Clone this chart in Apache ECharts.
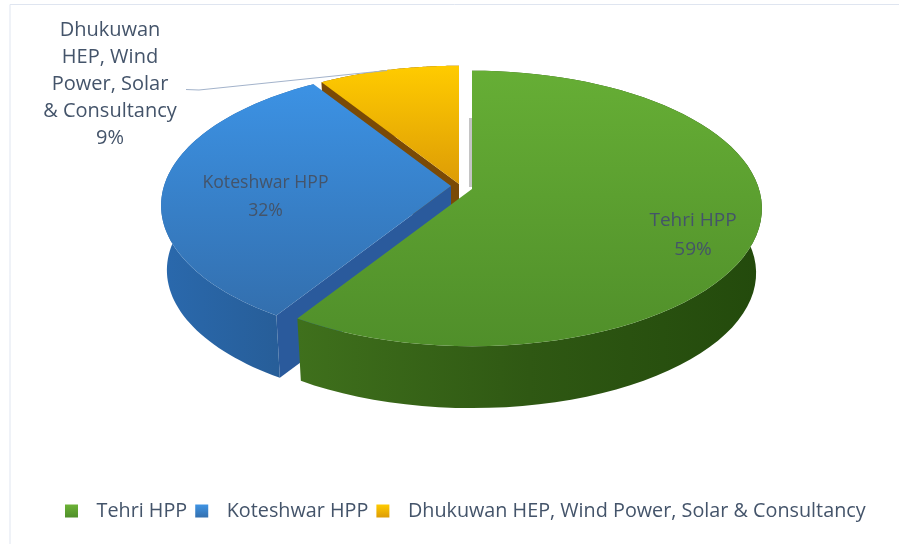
<!DOCTYPE html>
<html>
<head>
<meta charset="utf-8">
<style>html,body{margin:0;padding:0;background:#fff}#c{width:899px;height:544px;filter:blur(0.45px)}</style>
<script src="https://cdn.jsdelivr.net/npm/echarts@6/dist/echarts.min.js"></script>
</head>
<body>
<div id="c"></div>
<script>
const categories = ['Tehri HPP', 'Koteshwar HPP', 'Dhukuwan HEP, Wind Power, Solar & Consultancy'];
const values = [59, 32, 9];
const labelNames = ['Tehri HPP', 'Koteshwar HPP', 'Dhukuwan\nHEP, Wind\nPower, Solar\n& Consultancy'];

const FONT = '"Open Sans", "Noto Sans", sans-serif';
const TEXT = '#44546a';
const LG = echarts.graphic.LinearGradient;
// projection of the pie disc
const RX = 287, RY = 135, PERSP = 0.1415, DEPTH = 65, SHRINK = 0.98;
const apexes = [[472, 189], [451, 186], [459, 184]];
const labelPos = [[693, 235], [265.5, 197], [110, 84.5]];
const labelSize = [19, 17.6, 20];
const labelLine = [29, 28, 27];
const topFill = [
  new LG(0, 0, 0, 1, [{offset: 0, color: '#66ae35'}, {offset: 1, color: '#508f2a'}]),
  new LG(0, 0, 0, 1, [{offset: 0, color: '#3c92e4'}, {offset: 1, color: '#336fae'}]),
  new LG(0, 0, 0, 1, [{offset: 0, color: '#ffcb00'}, {offset: 1, color: '#dd9c06'}])
];
const wallFill = [
  new LG(0, 0, 1, 0, [{offset: 0, color: '#3f701c'}, {offset: 0.5, color: '#2f5813'}, {offset: 1, color: '#234a0c'}]),
  new LG(0, 0, 1, 0, [{offset: 0, color: '#2a69ad'}, {offset: 1, color: '#265a92'}]),
  '#7a4a06'
];
const faceFill = ['#2f5813', '#2a5a9c', '#7a4a06'];
const legendFill = [
  new LG(0, 0, 0, 1, [{offset: 0, color: '#6cb236'}, {offset: 1, color: '#4f8f2a'}]),
  new LG(0, 0, 0, 1, [{offset: 0, color: '#3f94e4'}, {offset: 1, color: '#336fae'}]),
  new LG(0, 0, 0, 1, [{offset: 0, color: '#ffcb00'}, {offset: 1, color: '#dd9c06'}])
];

function project(apex, deg, lower) {
  const t = deg * Math.PI / 180, u = Math.sin(t), v = -Math.cos(t);
  const d = 1 - PERSP * v, s = lower ? SHRINK : 1;
  return [apex[0] + s * RX * u / d, apex[1] + (lower ? DEPTH : 0) + s * RY * v / d];
}
function arc(apex, a0, a1, lower) {
  const pts = [];
  for (let k = 0; k <= 72; k++) pts.push(project(apex, a0 + (a1 - a0) * k / 72, lower));
  return pts;
}
const total = values.reduce((a, b) => a + b, 0);
function renderSlice(params, api) {
  const i = params.seriesIndex, val = api.value(0);
  const a0 = values.slice(0, i).reduce((a, b) => a + b, 0) / total * 360;
  const a1 = a0 + val / total * 360;
  const apex = apexes[i];
  const topArc = arc(apex, a0, a1, false), lowArc = arc(apex, a0, a1, true);
  const lowApex = [apex[0], apex[1] + DEPTH];
  const kids = [
    {type: 'polygon', shape: {points: [apex, topArc[0], lowArc[0], lowApex]}, style: {fill: faceFill[i]}},
    {type: 'polygon', shape: {points: topArc.concat(lowArc.slice().reverse())}, style: {fill: wallFill[i]}},
    {type: 'polygon', shape: {points: [apex].concat(topArc)}, style: {fill: topFill[i]}},
    {type: 'text', style: {text: labelNames[i] + '\n' + Math.round(val / total * 100) + '%', x: labelPos[i][0], y: labelPos[i][1],
      align: 'center', verticalAlign: 'middle', fill: TEXT, font: labelSize[i] + 'px ' + FONT, lineHeight: labelLine[i]}}
  ];
  if (i === 2) {
    kids.push({type: 'polyline', shape: {points: [[186, 89.5], [199, 90], [387, 70.5]]}, style: {stroke: '#a3b3cb', lineWidth: 1, fill: 'none'}});
  }
  return {type: 'group', children: kids};
}

const option = {
  animation: false,
  backgroundColor: '#ffffff',
  legend: {
    data: categories, left: 60, top: 496, right: 0, orient: 'horizontal', icon: 'rect',
    itemWidth: 13, itemHeight: 13, itemGap: 8, selectedMode: false,
    textStyle: {color: TEXT, fontFamily: FONT, fontSize: 19.8, padding: [0, 0, 0, 13.5]}
  },
  graphic: [
    {type: 'polyline', silent: true, shape: {points: [[10, 544], [10, 4.5], [899, 4.5]]}, style: {stroke: '#dfe5f0', lineWidth: 1, fill: 'none'}},
    {type: 'rect', silent: true, shape: {x: 469, y: 118, width: 3, height: 69}, style: {fill: '#c4c4c4'}}
  ],
  series: categories.map((name, i) => ({
    name, type: 'custom', coordinateSystem: 'none', silent: true,
    z: 5 - i,
    itemStyle: {color: legendFill[i]},
    renderItem: renderSlice, data: [[values[i]]]
  }))
};
const chart = echarts.init(document.getElementById('c'), null, {renderer: 'canvas'});
chart.setOption(option);
</script>
</body>
</html>
